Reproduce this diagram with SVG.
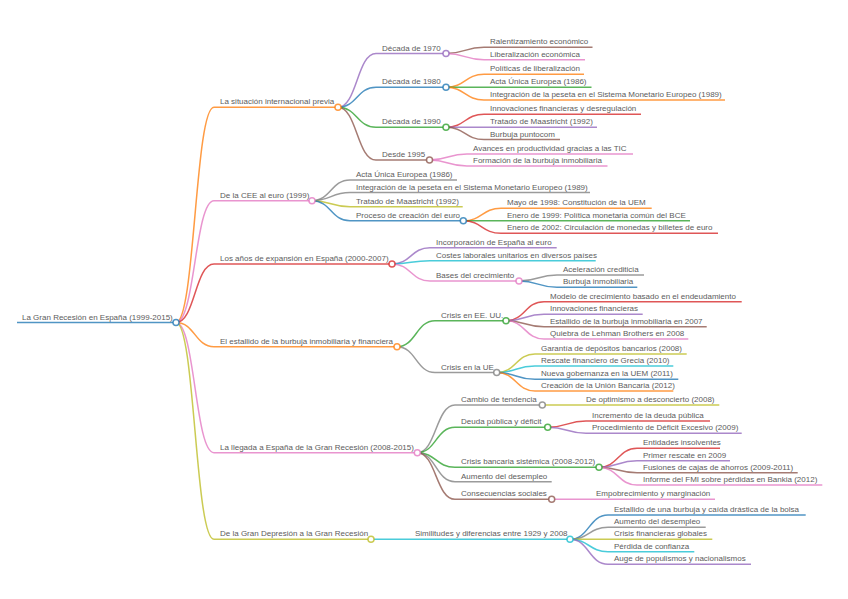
<svg xmlns="http://www.w3.org/2000/svg" width="848" height="599" viewBox="0 0 848 599">
<style>
  path { fill: none; stroke-width: 1.5; }
  circle { fill: #fff; stroke-width: 1.5; }
  text { font-family: "Liberation Sans", Arial, sans-serif; font-size: 8px; fill: #5c5c5c; stroke: none; }
  .blue { stroke: #1f77b4; }
  .orange { stroke: #ff7f0e; }
  .green { stroke: #2ca02c; }
  .red { stroke: #d62728; }
  .purple { stroke: #9467bd; }
  .brown { stroke: #8c564b; }
  .pink { stroke: #e377c2; }
  .gray { stroke: #7f7f7f; }
  .olive { stroke: #bcbd22; }
  .cyan { stroke: #17becf; }
  g.n { stroke-opacity: 0.78; }
  #links path { stroke-opacity: 0.78; }
</style>
<rect width="848" height="599" fill="#fff"/>
<g id="links">
  <path class="orange" d="M176 322.5 C195 322.5 195 107.3 214 107.3"/>
  <path class="pink" d="M176 322.5 C195 322.5 195 200.7 214 200.7"/>
  <path class="red" d="M176 322.5 C195 322.5 195 264 214 264"/>
  <path class="orange" d="M176 322.5 C195 322.5 195 346.7 214 346.7"/>
  <path class="pink" d="M176 322.5 C195 322.5 195 452.7 214 452.7"/>
  <path class="olive" d="M176 322.5 C195 322.5 195 539.3 214 539.3"/>
  <path class="purple" d="M338 107.3 C357 107.3 357 53.5 376 53.5"/>
  <path class="blue" d="M338 107.3 C357 107.3 357 87.3 376 87.3"/>
  <path class="green" d="M338 107.3 C357 107.3 357 127.3 376 127.3"/>
  <path class="brown" d="M338 107.3 C357 107.3 357 160 376 160"/>
  <path class="brown" d="M446 53.5 C465 53.5 465 47.3 484 47.3"/>
  <path class="pink" d="M446 53.5 C465 53.5 465 59.7 484 59.7"/>
  <path class="orange" d="M446 87.3 C465 87.3 465 74.3 484 74.3"/>
  <path class="green" d="M446 87.3 C465 87.3 465 87.3 484 87.3"/>
  <path class="orange" d="M446 87.3 C465 87.3 465 99.9 484 99.9"/>
  <path class="red" d="M446 127.3 C465 127.3 465 114.2 484 114.2"/>
  <path class="purple" d="M446 127.3 C465 127.3 465 127.3 484 127.3"/>
  <path class="brown" d="M446 127.3 C465 127.3 465 139.5 484 139.5"/>
  <path class="pink" d="M429.5 160 C448 160 448 154 467 154"/>
  <path class="pink" d="M429.5 160 C448 160 448 166 467 166"/>
  <path class="gray" d="M312 200.7 C331 200.7 331 180 350 180"/>
  <path class="gray" d="M312 200.7 C331 200.7 331 192.5 350 192.5"/>
  <path class="olive" d="M312 200.7 C331 200.7 331 206.7 350 206.7"/>
  <path class="blue" d="M312 200.7 C331 200.7 331 220.8 350 220.8"/>
  <path class="orange" d="M463.3 220.8 C482 220.8 482 208.3 501 208.3"/>
  <path class="green" d="M463.3 220.8 C482 220.8 482 220.8 501 220.8"/>
  <path class="red" d="M463.3 220.8 C482 220.8 482 233.3 501 233.3"/>
  <path class="purple" d="M392 264 C411 264 411 247.7 430 247.7"/>
  <path class="cyan" d="M392 264 C411 264 411 260.7 430 260.7"/>
  <path class="pink" d="M392 264 C411 264 411 281 430 281"/>
  <path class="gray" d="M519 281 C538 281 538 275 557 275"/>
  <path class="blue" d="M519 281 C538 281 538 287.3 557 287.3"/>
  <path class="green" d="M397 346.7 C416 346.7 416 320.7 435 320.7"/>
  <path class="gray" d="M397 346.7 C416 346.7 416 372.5 435 372.5"/>
  <path class="red" d="M506 320.7 C525 320.7 525 301.7 544 301.7"/>
  <path class="purple" d="M506 320.7 C525 320.7 525 314.3 544 314.3"/>
  <path class="brown" d="M506 320.7 C525 320.7 525 326.7 544 326.7"/>
  <path class="pink" d="M506 320.7 C525 320.7 525 339 544 339"/>
  <path class="olive" d="M496.7 372.5 C516 372.5 516 354 535 354"/>
  <path class="cyan" d="M496.7 372.5 C516 372.5 516 366 535 366"/>
  <path class="blue" d="M496.7 372.5 C516 372.5 516 379.3 535 379.3"/>
  <path class="orange" d="M496.7 372.5 C516 372.5 516 391 535 391"/>
  <path class="gray" d="M417.3 452.7 C436 452.7 436 405 455 405"/>
  <path class="green" d="M417.3 452.7 C436 452.7 436 427.3 455 427.3"/>
  <path class="green" d="M417.3 452.7 C436 452.7 436 467.3 455 467.3"/>
  <path class="gray" d="M417.3 452.7 C436 452.7 436 481.7 455 481.7"/>
  <path class="brown" d="M417.3 452.7 C436 452.7 436 499.3 455 499.3"/>
  <path class="olive" d="M542.3 405 L580 405"/>
  <path class="red" d="M547.7 427.3 C567 427.3 567 421 586 421"/>
  <path class="purple" d="M547.7 427.3 C567 427.3 567 433.3 586 433.3"/>
  <path class="red" d="M599 467.3 C618 467.3 618 448.3 637 448.3"/>
  <path class="purple" d="M599 467.3 C618 467.3 618 460.7 637 460.7"/>
  <path class="brown" d="M599 467.3 C618 467.3 618 472.7 637 472.7"/>
  <path class="pink" d="M599 467.3 C618 467.3 618 485 637 485"/>
  <path class="pink" d="M551.7 499.3 L590 499.3"/>
  <path class="cyan" d="M371 539.3 L409 539.3"/>
  <path class="blue" d="M570 539.3 C589 539.3 589 515 608 515"/>
  <path class="gray" d="M570 539.3 C589 539.3 589 527.3 608 527.3"/>
  <path class="olive" d="M570 539.3 C589 539.3 589 539.3 608 539.3"/>
  <path class="cyan" d="M570 539.3 C589 539.3 589 551.7 608 551.7"/>
  <path class="purple" d="M570 539.3 C589 539.3 589 564.3 608 564.3"/>
</g>

<g id="root" class="n blue"><path d="M17 322.5 H176"/><circle cx="176" cy="322.5" r="3"/><text x="22" y="319.5">La Gran Recesión en España (1999-2015)</text></g>

<g id="a" class="n orange"><path d="M214 107.3 H338"/><circle cx="338" cy="107.3" r="3"/><text x="220" y="104.3">La situación internacional previa</text></g>
<g id="a1" class="n purple"><path d="M376 53.5 H446"/><circle cx="446" cy="53.5" r="3"/><text x="382" y="50.5">Década de 1970</text></g>
<g id="a1a" class="n brown"><path d="M484 47.3 H592.5"/><text x="490" y="44.3">Ralentizamiento económico</text></g>
<g id="a1b" class="n pink"><path d="M484 59.7 H585"/><text x="490" y="56.7">Liberalización económica</text></g>
<g id="a2" class="n blue"><path d="M376 87.3 H446"/><circle cx="446" cy="87.3" r="3"/><text x="382" y="84.3">Década de 1980</text></g>
<g id="a2a" class="n orange"><path d="M484 74.3 H584"/><text x="490" y="71.3">Políticas de liberalización</text></g>
<g id="a2b" class="n green"><path d="M484 87.3 H591.5"/><text x="490" y="84.3">Acta Única Europea (1986)</text></g>
<g id="a2c" class="n orange"><path d="M484 99.9 H725"/><text x="490" y="96.9">Integración de la peseta en el Sistema Monetario Europeo (1989)</text></g>
<g id="a3" class="n green"><path d="M376 127.3 H446"/><circle cx="446" cy="127.3" r="3"/><text x="382" y="124.3">Década de 1990</text></g>
<g id="a3a" class="n red"><path d="M484 114.2 H641"/><text x="490" y="111.2">Innovaciones financieras y desregulación</text></g>
<g id="a3b" class="n purple"><path d="M484 127.3 H597"/><text x="490" y="124.3">Tratado de Maastricht (1992)</text></g>
<g id="a3c" class="n brown"><path d="M484 139.5 H560"/><text x="490" y="136.5">Burbuja puntocom</text></g>
<g id="a4" class="n brown"><path d="M376 160 H429.5"/><circle cx="429.5" cy="160" r="3"/><text x="382" y="157">Desde 1995</text></g>
<g id="a4a" class="n pink"><path d="M467 154 H633"/><text x="473" y="151">Avances en productividad gracias a las TIC</text></g>
<g id="a4b" class="n pink"><path d="M467 166 H607.5"/><text x="473" y="163">Formación de la burbuja inmobiliaria</text></g>

<g id="b" class="n pink"><path d="M214 200.7 H312"/><circle cx="312" cy="200.7" r="3"/><text x="220" y="197.7">De la CEE al euro (1999)</text></g>
<g id="b1" class="n gray"><path d="M350 180 H457"/><text x="356" y="177">Acta Única Europea (1986)</text></g>
<g id="b2" class="n gray"><path d="M350 192.5 H590"/><text x="356" y="189.5">Integración de la peseta en el Sistema Monetario Europeo (1989)</text></g>
<g id="b3" class="n olive"><path d="M350 206.7 H462.7"/><text x="356" y="203.7">Tratado de Maastricht (1992)</text></g>
<g id="b4" class="n blue"><path d="M350 220.8 H463.3"/><circle cx="463.3" cy="220.8" r="3"/><text x="356" y="217.8">Proceso de creación del euro</text></g>
<g id="b4a" class="n orange"><path d="M501 208.3 H651.7"/><text x="507" y="205.3">Mayo de 1998: Constitución de la UEM</text></g>
<g id="b4b" class="n green"><path d="M501 220.8 H690"/><text x="507" y="217.8">Enero de 1999: Política monetaria común del BCE</text></g>
<g id="b4c" class="n red"><path d="M501 233.3 H718"/><text x="507" y="230.3">Enero de 2002: Circulación de monedas y billetes de euro</text></g>

<g id="c" class="n red"><path d="M214 264 H392"/><circle cx="392" cy="264" r="3"/><text x="220" y="261">Los años de expansión en España (2000-2007)</text></g>
<g id="c1" class="n purple"><path d="M430 247.7 H556.7"/><text x="436" y="244.7">Incorporación de España al euro</text></g>
<g id="c2" class="n cyan"><path d="M430 260.7 H595.7"/><text x="436" y="257.7">Costes laborales unitarios en diversos países</text></g>
<g id="c3" class="n pink"><path d="M430 281 H519"/><circle cx="519" cy="281" r="3"/><text x="436" y="278">Bases del crecimiento</text></g>
<g id="c3a" class="n gray"><path d="M557 275 H644"/><text x="563" y="272">Aceleración crediticia</text></g>
<g id="c3b" class="n blue"><path d="M557 287.3 H637.3"/><text x="563" y="284.3">Burbuja inmobiliaria</text></g>

<g id="d" class="n orange"><path d="M214 346.7 H397"/><circle cx="397" cy="346.7" r="3"/><text x="220" y="343.7">El estallido de la burbuja inmobiliaria y financiera</text></g>
<g id="d1" class="n green"><path d="M435 320.7 H506"/><circle cx="506" cy="320.7" r="3"/><text x="441" y="317.7">Crisis en EE. UU.</text></g>
<g id="d1a" class="n red"><path d="M544 301.7 H741.7"/><text x="550" y="298.7">Modelo de crecimiento basado en el endeudamiento</text></g>
<g id="d1b" class="n purple"><path d="M544 314.3 H642.7"/><text x="550" y="311.3">Innovaciones financieras</text></g>
<g id="d1c" class="n brown"><path d="M544 326.7 H706.7"/><text x="550" y="323.7">Estallido de la burbuja inmobiliaria en 2007</text></g>
<g id="d1d" class="n pink"><path d="M544 339 H688.3"/><text x="550" y="336">Quiebra de Lehman Brothers en 2008</text></g>
<g id="d2" class="n gray"><path d="M435 372.5 H496.7"/><circle cx="496.7" cy="372.5" r="3"/><text x="441" y="369.5">Crisis en la UE</text></g>
<g id="d2a" class="n olive"><path d="M535 354 H686.7"/><text x="541" y="351">Garantía de depósitos bancarios (2008)</text></g>
<g id="d2b" class="n cyan"><path d="M535 366 H673.3"/><text x="541" y="363">Rescate financiero de Grecia (2010)</text></g>
<g id="d2c" class="n blue"><path d="M535 379.3 H678.3"/><text x="541" y="376.3">Nueva gobernanza en la UEM (2011)</text></g>
<g id="d2d" class="n orange"><path d="M535 391 H673.3"/><text x="541" y="388">Creación de la Unión Bancaria (2012)</text></g>

<g id="e" class="n pink"><path d="M214 452.7 H417.3"/><circle cx="417.3" cy="452.7" r="3"/><text x="220" y="449.7">La llegada a España de la Gran Recesión (2008-2015)</text></g>
<g id="e1" class="n gray"><path d="M455 405 H542.3"/><circle cx="542.3" cy="405" r="3"/><text x="461" y="402">Cambio de tendencia</text></g>
<g id="e1a" class="n olive"><path d="M580 405 H719.3"/><text x="586" y="402">De optimismo a desconcierto (2008)</text></g>
<g id="e2" class="n green"><path d="M455 427.3 H547.7"/><circle cx="547.7" cy="427.3" r="3"/><text x="461" y="424.3">Deuda pública y déficit</text></g>
<g id="e2a" class="n red"><path d="M586 421 H710"/><text x="592" y="418">Incremento de la deuda pública</text></g>
<g id="e2b" class="n purple"><path d="M586 433.3 H741.7"/><text x="592" y="430.3">Procedimiento de Déficit Excesivo (2009)</text></g>
<g id="e3" class="n green"><path d="M455 467.3 H599"/><circle cx="599" cy="467.3" r="3"/><text x="461" y="464.3">Crisis bancaria sistémica (2008-2012)</text></g>
<g id="e3a" class="n red"><path d="M637 448.3 H720"/><text x="643" y="445.3">Entidades insolventes</text></g>
<g id="e3b" class="n purple"><path d="M637 460.7 H730"/><text x="643" y="457.7">Primer rescate en 2009</text></g>
<g id="e3c" class="n brown"><path d="M637 472.7 H797.7"/><text x="643" y="469.7">Fusiones de cajas de ahorros (2009-2011)</text></g>
<g id="e3d" class="n pink"><path d="M637 485 H822.3"/><text x="643" y="482">Informe del FMI sobre pérdidas en Bankia (2012)</text></g>
<g id="e4" class="n gray"><path d="M455 481.7 H551.7"/><text x="461" y="478.7">Aumento del desempleo</text></g>
<g id="e5" class="n brown"><path d="M455 499.3 H551.7"/><circle cx="551.7" cy="499.3" r="3"/><text x="461" y="496.3">Consecuencias sociales</text></g>
<g id="e5a" class="n pink"><path d="M590 499.3 H715"/><text x="596" y="496.3">Empobrecimiento y marginación</text></g>

<g id="f" class="n olive"><path d="M214 539.3 H371"/><circle cx="371" cy="539.3" r="3"/><text x="220" y="536.3">De la Gran Depresión a la Gran Recesión</text></g>
<g id="f1" class="n cyan"><path d="M409 539.3 H570"/><circle cx="570" cy="539.3" r="3"/><text x="415" y="536.3">Similitudes y diferencias entre 1929 y 2008</text></g>
<g id="f1a" class="n blue"><path d="M608 515 H805.7"/><text x="614" y="512">Estallido de una burbuja y caída drástica de la bolsa</text></g>
<g id="f1b" class="n gray"><path d="M608 527.3 H705.7"/><text x="614" y="524.3">Aumento del desempleo</text></g>
<g id="f1c" class="n olive"><path d="M608 539.3 H712.3"/><text x="614" y="536.3">Crisis financieras globales</text></g>
<g id="f1d" class="n cyan"><path d="M608 551.7 H694.3"/><text x="614" y="548.7">Pérdida de confianza</text></g>
<g id="f1e" class="n purple"><path d="M608 564.3 H751"/><text x="614" y="561.3">Auge de populismos y nacionalismos</text></g>
</svg>
